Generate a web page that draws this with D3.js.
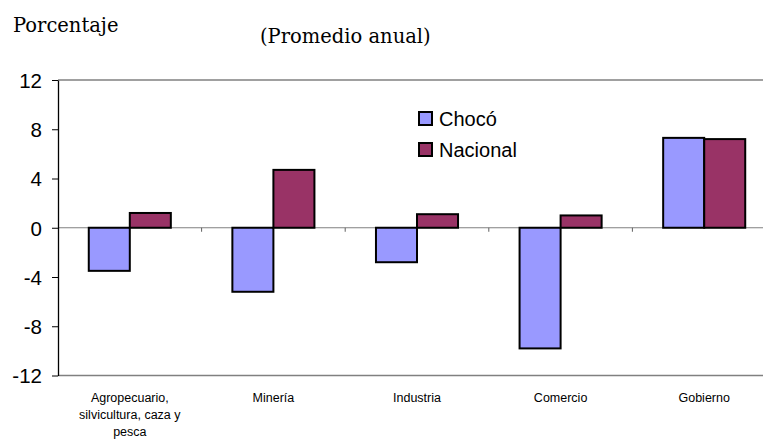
<!DOCTYPE html>
<head>
  <meta charset="utf-8">
  <script src="https://cdn.jsdelivr.net/npm/d3@7"></script>
  <style>
    body { margin:0; background-color: white; }
  </style>
</head>
<body>
  <svg id="chart" width="763" height="441"></svg>
  <script>
  // data
  var categories = [["Agropecuario,", "silvicultura, caza y", "pesca"], ["Minería"], ["Industria"], ["Comercio"], ["Gobierno"]];
  var series = ["Chocó", "Nacional"];
  var choco = [-3.5, -5.2, -2.8, -9.8, 7.3];
  var nacional = [1.2, 4.7, 1.1, 1.0, 7.2];
  var yTicks = [-12, -8, -4, 0, 4, 8, 12];
  var colors = ["#9999ff", "#993366"];

  var sans = "'Liberation Sans', Arial, sans-serif";
  var serif = "'DejaVu Serif', 'Liberation Serif', serif";

  var plotLeft = 58, plotRight = 776, plotTop = 80, plotBottom = 375.5;

  var svg = d3.select("#chart");

  var x = d3.scaleBand()
      .domain(d3.range(categories.length))
      .range([plotLeft, plotRight]);
  var xs = d3.scaleBand()
      .domain(series)
      .range([0, x.bandwidth()])
      .paddingInner(0)
      .paddingOuter(0.75);
  var y = d3.scaleLinear().domain([-12, 12]).range([plotBottom, plotTop]);

  svg.append("text")
      .attr("x", 13).attr("y", 31.5)
      .style("font-family", serif)
      .style("font-size", "19.5px")
      .text("Porcentaje");
  svg.append("text")
      .attr("x", 260).attr("y", 43)
      .style("font-family", serif)
      .style("font-size", "19.5px")
      .text("(Promedio anual)");

  // top and bottom frame lines
  svg.append("line")
      .attr("x1", plotLeft).attr("x2", plotRight)
      .attr("y1", y(12)).attr("y2", y(12))
      .style("stroke", "#808080").style("stroke-width", 1.5);
  svg.append("line")
      .attr("x1", plotLeft).attr("x2", plotRight)
      .attr("y1", y(-12)).attr("y2", y(-12))
      .style("stroke", "#808080").style("stroke-width", 1.5);

  // zero line with category ticks
  var xAxis = svg.append("g")
      .attr("transform", "translate(0," + y(0) + ")");
  xAxis.append("line")
      .attr("x1", plotLeft).attr("x2", plotRight)
      .style("stroke", "#808080").style("stroke-width", 1.2);
  xAxis.selectAll(".tk")
      .data(d3.range(1, categories.length))
      .enter().append("line")
      .attr("x1", function(d) { return x(d); })
      .attr("x2", function(d) { return x(d); })
      .attr("y1", 0).attr("y2", 4)
      .style("stroke", "#606060");

  var yAxis = svg.append("g")
      .attr("transform", "translate(" + plotLeft + ",0)")
      .call(d3.axisLeft(y).tickValues(yTicks)
        .tickFormat(function(d) { return String(d); })
        .tickSize(6).tickPadding(10).tickSizeOuter(0));
  yAxis.select(".domain").style("stroke", "black").style("stroke-width", 1.3);
  yAxis.selectAll("line").style("stroke", "black");
  yAxis.selectAll("text")
      .style("font-family", sans)
      .style("font-size", "20.5px").style("fill", "black")
      .attr("dy", "0.36em");

  var rows = categories.map(function(c, i) {
    return [{s: series[0], v: choco[i], i: i}, {s: series[1], v: nacional[i], i: i}];
  });

  var groups = svg.selectAll(".grp")
      .data(rows)
      .enter().append("g")
      .attr("transform", function(d, i) { return "translate(" + x(i) + ",0)"; });

  groups.selectAll("rect")
      .data(function(d) { return d; })
      .enter().append("rect")
      .attr("x", function(d) { return xs(d.s); })
      .attr("width", xs.bandwidth())
      .attr("y", function(d) { return y(Math.max(0, d.v)); })
      .attr("height", function(d) { return Math.abs(y(d.v) - y(0)); })
      .style("fill", function(d, j) { return colors[j]; })
      .style("stroke", "black")
      .style("stroke-width", 2);

  // category labels
  svg.selectAll(".cat")
      .data(categories)
      .enter().append("text")
      .attr("text-anchor", "middle")
      .style("font-family", sans)
      .style("font-size", "12.5px")
      .attr("transform", function(d, i) { return "translate(" + (x(i) + x.bandwidth() / 2) + ",402)"; })
      .selectAll("tspan")
      .data(function(d) { return d; })
      .enter().append("tspan")
      .attr("x", 0)
      .attr("dy", function(d, k) { return k === 0 ? 0 : 17; })
      .text(function(d) { return d; });

  // legend
  var legend = svg.selectAll(".legend")
      .data(series)
      .enter().append("g")
      .attr("transform", function(d, i) { return "translate(419," + (112 + 31 * i) + ")"; });
  legend.append("rect")
      .attr("width", 13).attr("height", 13)
      .style("fill", function(d, i) { return colors[i]; })
      .style("stroke", "black").style("stroke-width", 2);
  legend.append("text")
      .attr("x", 20).attr("y", 14)
      .style("font-family", sans)
      .style("font-size", "20px")
      .text(function(d) { return d; });
  </script>
</body>
